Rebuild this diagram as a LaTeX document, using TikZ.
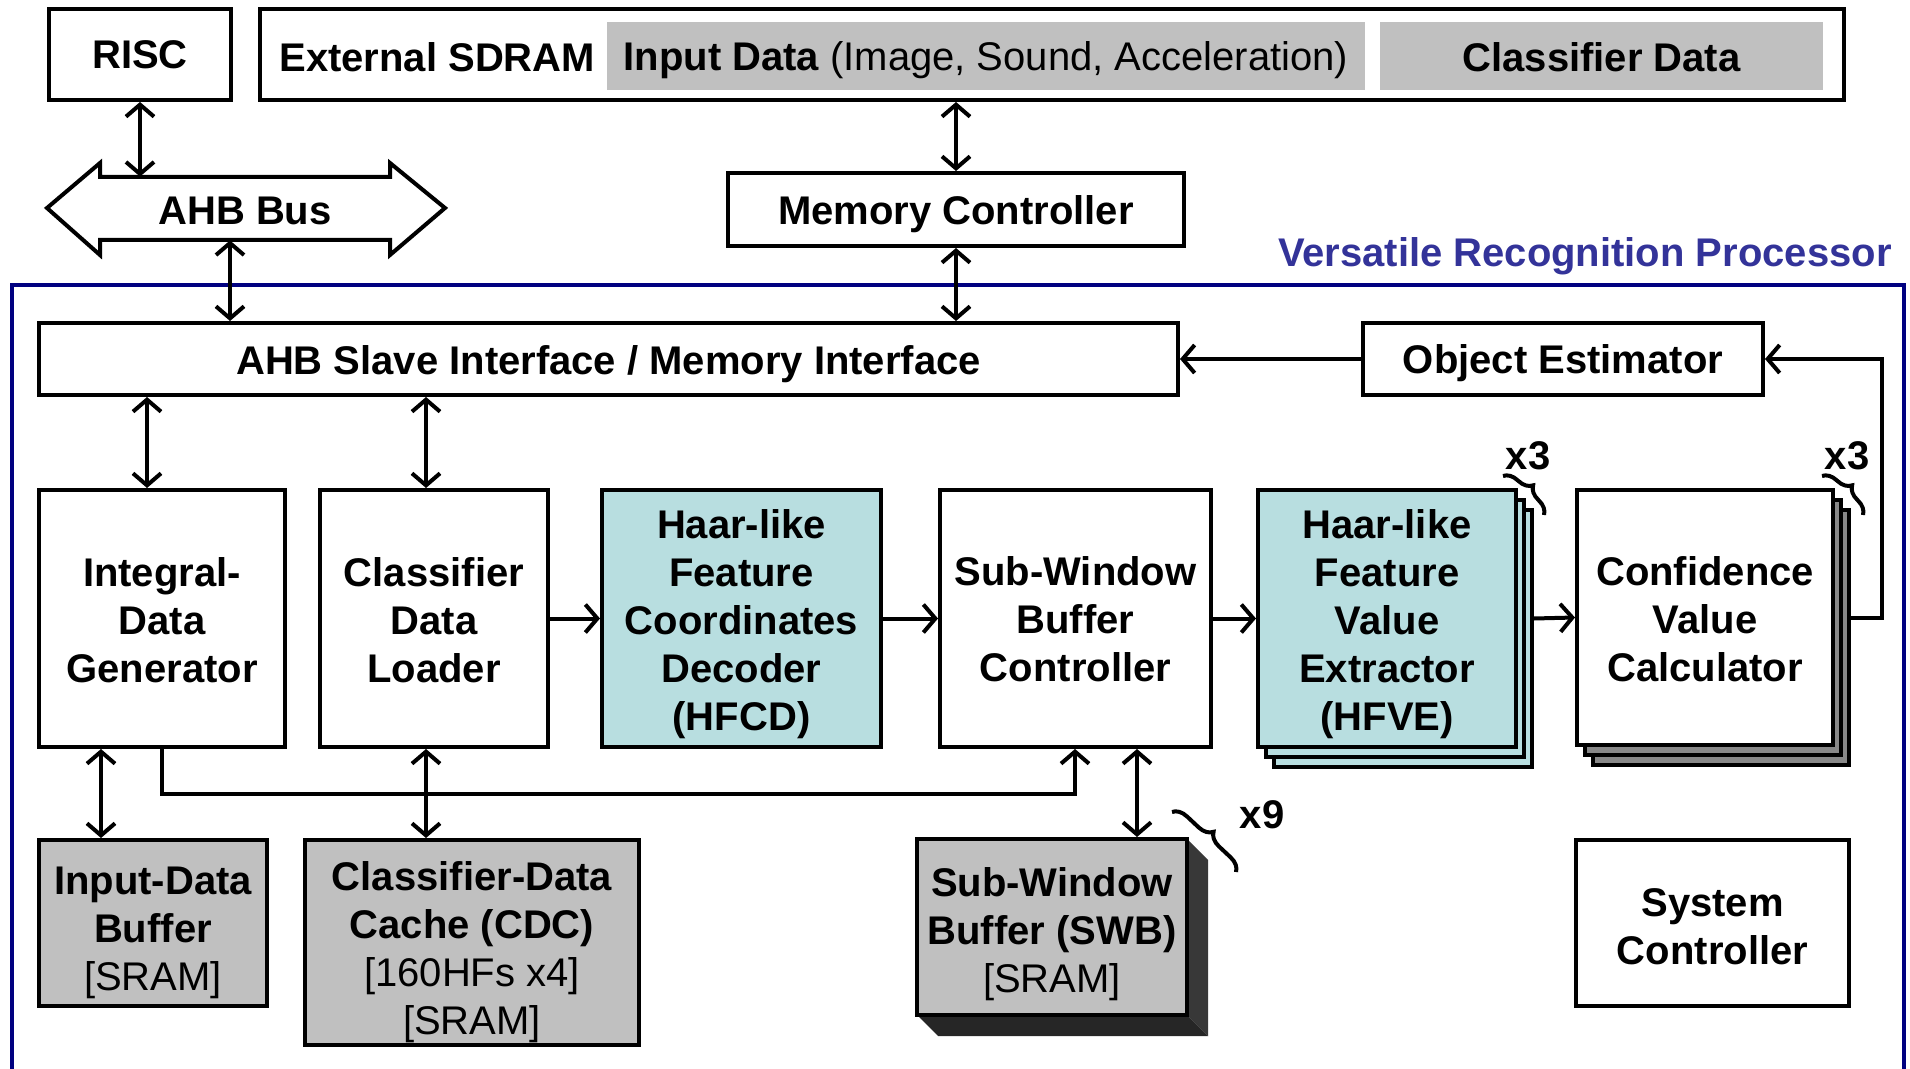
\documentclass[tikz,border=0pt]{standalone}
\usepackage{fontspec}
\setmainfont{Liberation Sans}
\usetikzlibrary{arrows.meta,decorations.pathreplacing,calc}
\definecolor{cyanfill}{RGB}{184,222,224}
\definecolor{grayfill}{RGB}{192,192,192}
\definecolor{stackgray}{RGB}{136,136,136}
\definecolor{vrpblue}{RGB}{0,0,128}
\definecolor{vrptext}{RGB}{51,51,153}
\definecolor{darkface}{RGB}{56,56,56}
\definecolor{darkerface}{RGB}{38,38,38}
% [text shift]{name}{x1}{y1}{x2}{y2}{style}{text}
\newcommand{\blkbox}[8][0]{%
  \node[#7, minimum width={0.5pt*(#5-#3)}, minimum height={0.5pt*(#6-#4)}] (#2) at ({(#3+#5)/2},{(#4+#6)/2}) {};
  \node (#2t) at ($(#2.center)+(0,#1)$) {#8};}
\begin{document}
\begin{tikzpicture}[x=0.5pt,y=-0.5pt,
  every node/.style={font=\fontsize{20}{24}\selectfont\bfseries, align=center, inner sep=0pt},
  blk/.style={draw, line width=2pt, fill=white},
  stackbox/.style={draw, line width=2pt},
  arr/.style={line width=2pt, -{Straight Barb[length=6pt,width=14pt]}},
  conn/.style={line width=2pt, {Straight Barb[length=6pt,width=14pt]}-{Straight Barb[length=6pt,width=14pt]}},
  bracestyle/.style={line width=2pt, decorate, decoration={brace, amplitude=7pt}}
]
\useasboundingbox (0,0) rectangle (1910,1069);

% processor frame
\draw[vrpblue, line width=2pt] (12,1069) -- (12,285) -- (1904,285) -- (1904,1069);
\node[anchor=east, text=vrptext] (vrp) at (1892,256) {Versatile Recognition Processor};

% top row
\blkbox{risc}{49}{9}{231}{100}{blk}{RISC}
\blkbox{sdram}{260}{9}{1844}{100}{blk}{}
\node[anchor=west] (sdramlbl) at (279,57) {External SDRAM};
\blkbox[4]{inp}{607}{22}{1365}{90}{fill=grayfill}{Input Data {\mdseries (Image, Sound, Acceleration)}}
\blkbox[1]{cls}{1380}{22}{1823}{90}{fill=grayfill}{Classifier Data}

% AHB bus
\draw[line width=2pt, fill=white, line join=miter] (47,208) -- (100,163) -- (100,177) -- (390,177) -- (390,163) -- (445,208) -- (390,255) -- (390,240) -- (100,240) -- (100,255) -- cycle;
\blkbox[2]{ahb}{100}{177}{390}{240}{}{AHB Bus}

\blkbox[5]{mc}{728}{173}{1184}{246}{blk}{Memory Controller}

% interface row
\blkbox[5]{slave}{39}{323}{1178}{395}{blk}{AHB Slave Interface / Memory Interface}
\blkbox[4]{oe}{1363}{323}{1763}{395}{blk}{Object Estimator}

% processing row
\blkbox[2]{idg}{39}{490}{285}{747}{blk}{Integral-\\Data\\Generator}
\blkbox[2]{cdl}{320}{490}{548}{747}{blk}{Classifier\\Data\\Loader}
\blkbox[6]{hfcd}{602}{490}{881}{747}{blk,fill=cyanfill}{Haar-like\\Feature\\Coordinates\\Decoder\\(HFCD)}
\blkbox[1]{swbc}{940}{490}{1211}{747}{blk}{Sub-Window\\Buffer\\Controller}
\draw[stackbox, fill=cyanfill] (1274,510) rectangle (1532,767);
\draw[stackbox, fill=cyanfill] (1266,500) rectangle (1524,757);
\blkbox[6]{hfve}{1258}{490}{1516}{747}{blk,fill=cyanfill}{Haar-like\\Feature\\Value\\Extractor\\(HFVE)}
\draw[stackbox, fill=stackgray] (1593,510) rectangle (1849,765);
\draw[stackbox, fill=stackgray] (1585,500) rectangle (1841,755);
\blkbox[2]{cvc}{1577}{490}{1833}{745}{blk}{Confidence\\Value\\Calculator}

% memories
\blkbox[10]{idb}{39}{840}{267}{1006}{blk,fill=grayfill}{Input-Data\\Buffer\\{\mdseries [SRAM]}}
\blkbox[10]{cdc}{305}{840}{639}{1045}{blk,fill=grayfill}{Classifier-Data\\Cache (CDC)\\{\mdseries [160HFs x4]}\\{\mdseries [SRAM]}}
\fill[darkface] (1187,839) -- (1208,860) -- (1208,1036) -- (1187,1015) -- cycle;
\fill[darkerface] (917,1015) -- (1187,1015) -- (1208,1036) -- (938,1036) -- cycle;
\blkbox[7]{swb}{917}{839}{1187}{1015}{blk,fill=grayfill}{Sub-Window\\Buffer (SWB)\\{\mdseries [SRAM]}}
\blkbox[4]{sys}{1576}{840}{1849}{1006}{blk}{System\\Controller}

% multiplicity labels
\node (x3a) at (1528,456) {x3};
\draw[bracestyle] (1503,476) -- (1544,515);
\node (x3b) at (1847,456) {x3};
\draw[bracestyle] (1822,476) -- (1863,515);
\node (x9) at (1262,815) {x9};
\draw[bracestyle] (1172,812) -- (1236,872);

% helper coordinates
\coordinate (xb) at (230,0);
\coordinate (xi) at (147,0);
\coordinate (xc) at (426,0);
\coordinate (xd) at (101,0);
\coordinate (xl) at (1075,0);
\coordinate (xs) at (1137,0);
\coordinate (xr) at (1882,0);
\coordinate (yl) at (0,794);

% connectors
\draw[conn] (risc.south) -- (ahb.north -| risc.south);
\draw[conn] (ahb.south -| xb) -- (slave.north -| xb);
\draw[conn] (sdram.south -| mc.north) -- (mc.north);
\draw[conn] (mc.south) -- (slave.north -| mc.south);
\draw[arr] (oe.west) -- (slave.east |- oe.west);
\draw[arr] ($(cvc.east)+(16,0)$) -- (cvc.east -| xr) -- (oe.east -| xr) -- (oe.east);
\draw[conn] (slave.south -| xi) -- (idg.north -| xi);
\draw[conn] (slave.south -| xc) -- (cdl.north -| xc);
\draw[arr] (cdl.east) -- (hfcd.west);
\draw[arr] (hfcd.east) -- (swbc.west);
\draw[arr] (swbc.east) -- (hfve.west);
\draw[arr] ($(hfve.east)+(16,0)$) -- (cvc.west);
\draw[conn] (idg.south -| xd) -- (idb.north -| xd);
\draw[arr] (idg.south) -- (idg.south |- yl) -- (xl |- yl) -- (swbc.south -| xl);
\draw[conn] (cdl.south -| xc) -- (cdc.north -| xc);
\draw[conn] (swbc.south -| xs) -- (swb.north -| xs);
\end{tikzpicture}
\end{document}
